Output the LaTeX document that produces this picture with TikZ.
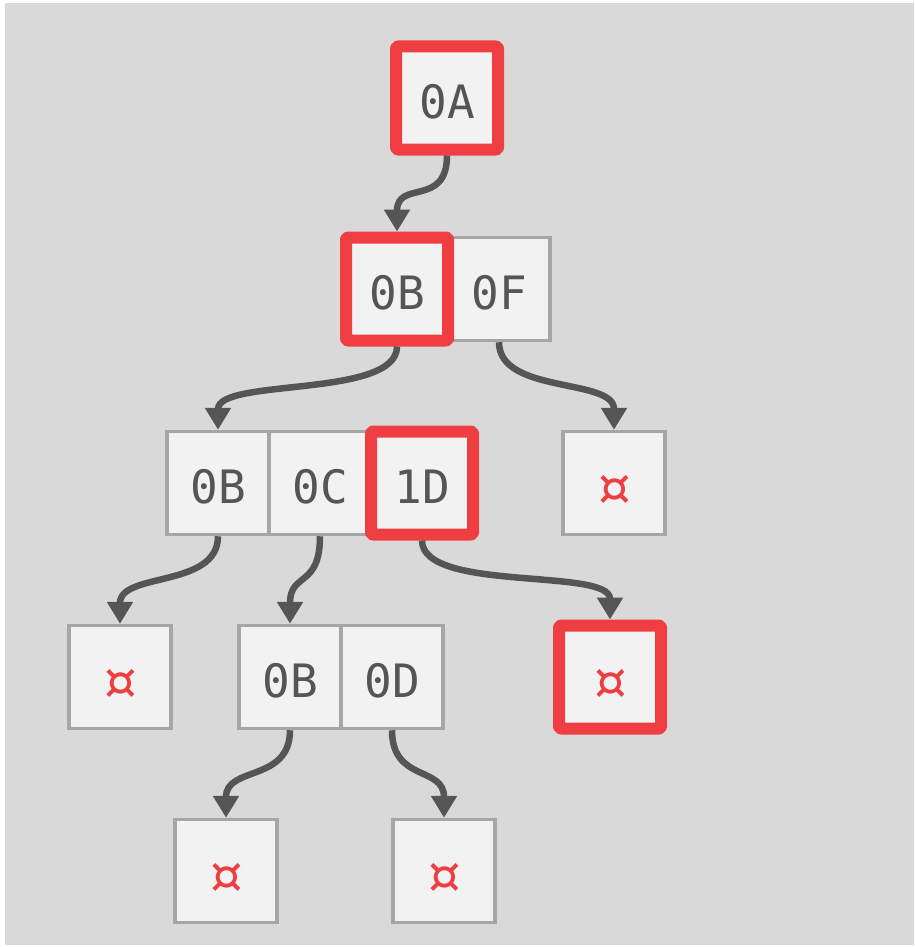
\documentclass[tikz,border=0pt]{standalone}
\usepackage{fontspec}
\setmonofont{DejaVu Sans Mono}
\usetikzlibrary{arrows.meta}
\definecolor{panel}{HTML}{D9D9D9}
\definecolor{cellfill}{HTML}{F2F2F2}
\definecolor{cellline}{HTML}{A6A6A6}
\definecolor{hot}{HTML}{EF3E42}
\definecolor{ink}{HTML}{555555}
\tikzset{
  cell/.style={draw=cellline, fill=cellfill, line width=3.5pt,
    minimum width=102pt, minimum height=103pt, inner sep=0pt,
    text height=40pt, text depth=0pt,
    text=ink, font=\ttfamily\fontsize{46}{46}\selectfont},
  hotcell/.style={cell, draw=hot, line width=12pt, rounded corners=2pt, line join=round},
  link/.style={draw=ink, line width=6.5pt,
    -{Triangle[width=25pt,length=22pt]}},
}
% empty-slot marker
\newcommand{\nil}{\raisebox{-6pt}{\fontsize{64}{64}\selectfont\textcolor{hot}{¤}}}
\begin{document}
\begin{tikzpicture}[x=1pt,y=-1pt]
  \useasboundingbox (0,0) rectangle (914,947);
  \fill[panel] (5,3) rectangle (914,945);

  % grey cells
  \node[cell] (f2) at (499,289) {0F};
  \node[cell] (b3) at (218,483) {0B};
  \node[cell] (c3) at (320,483) {0C};
  \node[cell] (n3) at (614,483) {\nil};
  \node[cell] (nl) at (120,677) {\nil};
  \node[cell] (b4) at (290,677) {0B};
  \node[cell] (d4) at (392,677) {0D};
  \node[cell] (n5a) at (226,871) {\nil};
  \node[cell] (n5b) at (444,871) {\nil};

  % highlighted search path
  \node[hotcell] (root) at (447,98) {0A};
  \node[hotcell] (b2) at (397,289) {0B};
  \node[hotcell] (d3) at (422,483) {1D};
  \node[hotcell] (nr) at (610,677) {\nil};

  % child links
  \draw[link] (root.south) .. controls +(0,52) and +(0,-52) .. (b2.north);
  \draw[link] (b2.south) .. controls +(0,52) and +(0,-52) .. (b3.north);
  \draw[link] (f2.south) .. controls +(0,52) and +(0,-52) .. (n3.north);
  \draw[link] (b3.south) .. controls +(0,52) and +(0,-52) .. (nl.north);
  \draw[link] (c3.south) .. controls +(0,52) and +(0,-52) .. (b4.north);
  \draw[link] (d3.south) .. controls +(0,52) and +(0,-52) .. (nr.north);
  \draw[link] (b4.south) .. controls +(0,52) and +(0,-52) .. (n5a.north);
  \draw[link] (d4.south) .. controls +(0,52) and +(0,-52) .. (n5b.north);
\end{tikzpicture}
\end{document}
